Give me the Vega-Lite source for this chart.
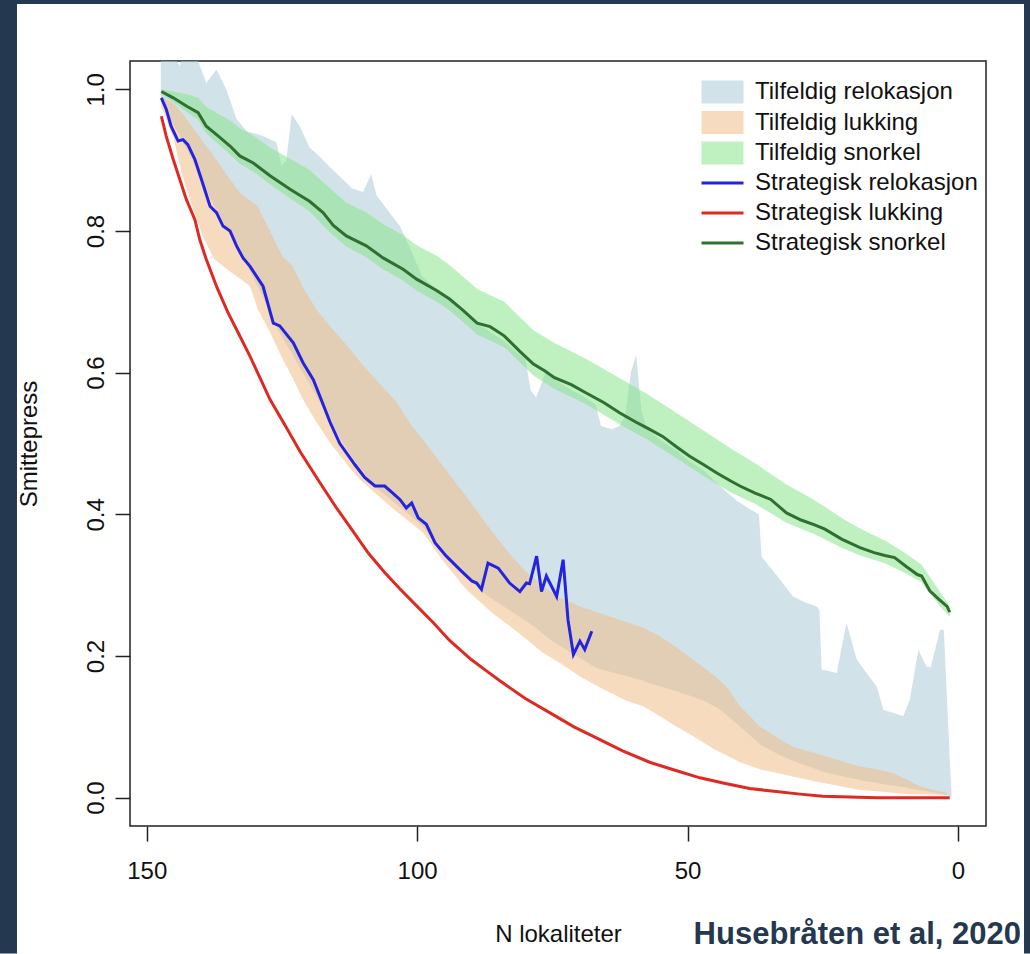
{
  "$schema": "https://vega.github.io/schema/vega-lite/v6.json",
  "width": 856,
  "height": 765,
  "autosize": {"type": "none"},
  "padding": {"left": 130, "top": 61, "right": 44, "bottom": 128},
  "background": "white",
  "title": {"text": "Husebråten et al, 2020", "orient": "bottom", "anchor": "end", "frame": "group", "offset": -10, "dx": 35, "baseline": "alphabetic", "fontSize": 31, "fontWeight": "bold", "color": "#24384f", "font": "Liberation Sans"},
  "config": {
    "font": "Liberation Sans",
    "view": {"stroke": "#222", "strokeWidth": 1.5},
    "axis": {"grid": false, "domain": false, "tickSize": 15, "tickWidth": 1.5, "tickColor": "#222", "labelFontSize": 24, "labelColor": "#111", "labelFont": "Liberation Sans", "titleFontSize": 24, "titleFontWeight": "normal", "titleColor": "#111", "titleFont": "Liberation Sans", "labelFlush": false, "labelOverlap": false}
  },
  "datasets": {
    "bands": [
      {"s": "Tilfeldig relokasjon", "N": 147.4, "lo": 0.985, "hi": 1.06},
      {"s": "Tilfeldig relokasjon", "N": 145.1, "lo": 0.95, "hi": 1.05},
      {"s": "Tilfeldig relokasjon", "N": 143.9, "lo": 0.935, "hi": 1.033},
      {"s": "Tilfeldig relokasjon", "N": 143.0, "lo": 0.92, "hi": 1.06},
      {"s": "Tilfeldig relokasjon", "N": 141.5, "lo": 0.9, "hi": 1.045},
      {"s": "Tilfeldig relokasjon", "N": 140.5, "lo": 0.88, "hi": 1.04},
      {"s": "Tilfeldig relokasjon", "N": 139.0, "lo": 0.857, "hi": 1.009},
      {"s": "Tilfeldig relokasjon", "N": 137.1, "lo": 0.83, "hi": 1.028},
      {"s": "Tilfeldig relokasjon", "N": 135.3, "lo": 0.805, "hi": 1.0},
      {"s": "Tilfeldig relokasjon", "N": 133.4, "lo": 0.78, "hi": 0.958},
      {"s": "Tilfeldig relokasjon", "N": 131.5, "lo": 0.752, "hi": 0.941},
      {"s": "Tilfeldig relokasjon", "N": 128.5, "lo": 0.707, "hi": 0.934},
      {"s": "Tilfeldig relokasjon", "N": 126.0, "lo": 0.665, "hi": 0.925},
      {"s": "Tilfeldig relokasjon", "N": 125.1, "lo": 0.652, "hi": 0.892},
      {"s": "Tilfeldig relokasjon", "N": 124.2, "lo": 0.64, "hi": 0.9},
      {"s": "Tilfeldig relokasjon", "N": 123.2, "lo": 0.628, "hi": 0.965},
      {"s": "Tilfeldig relokasjon", "N": 121.7, "lo": 0.607, "hi": 0.948},
      {"s": "Tilfeldig relokasjon", "N": 119.9, "lo": 0.584, "hi": 0.918},
      {"s": "Tilfeldig relokasjon", "N": 118.0, "lo": 0.558, "hi": 0.905},
      {"s": "Tilfeldig relokasjon", "N": 116.1, "lo": 0.532, "hi": 0.89},
      {"s": "Tilfeldig relokasjon", "N": 114.0, "lo": 0.505, "hi": 0.875},
      {"s": "Tilfeldig relokasjon", "N": 112.0, "lo": 0.48, "hi": 0.86},
      {"s": "Tilfeldig relokasjon", "N": 110.0, "lo": 0.46, "hi": 0.855},
      {"s": "Tilfeldig relokasjon", "N": 108.5, "lo": 0.445, "hi": 0.88},
      {"s": "Tilfeldig relokasjon", "N": 107.5, "lo": 0.437, "hi": 0.85},
      {"s": "Tilfeldig relokasjon", "N": 105.5, "lo": 0.425, "hi": 0.83},
      {"s": "Tilfeldig relokasjon", "N": 103.2, "lo": 0.41, "hi": 0.807},
      {"s": "Tilfeldig relokasjon", "N": 101.0, "lo": 0.397, "hi": 0.77},
      {"s": "Tilfeldig relokasjon", "N": 99.0, "lo": 0.383, "hi": 0.735},
      {"s": "Tilfeldig relokasjon", "N": 96.0, "lo": 0.355, "hi": 0.715},
      {"s": "Tilfeldig relokasjon", "N": 93.0, "lo": 0.33, "hi": 0.695},
      {"s": "Tilfeldig relokasjon", "N": 90.0, "lo": 0.305, "hi": 0.675},
      {"s": "Tilfeldig relokasjon", "N": 87.0, "lo": 0.285, "hi": 0.66},
      {"s": "Tilfeldig relokasjon", "N": 84.0, "lo": 0.27, "hi": 0.645},
      {"s": "Tilfeldig relokasjon", "N": 81.0, "lo": 0.255, "hi": 0.625},
      {"s": "Tilfeldig relokasjon", "N": 80.0, "lo": 0.25, "hi": 0.62},
      {"s": "Tilfeldig relokasjon", "N": 79.0, "lo": 0.245, "hi": 0.575},
      {"s": "Tilfeldig relokasjon", "N": 78.0, "lo": 0.24, "hi": 0.565},
      {"s": "Tilfeldig relokasjon", "N": 77.0, "lo": 0.233, "hi": 0.585},
      {"s": "Tilfeldig relokasjon", "N": 76.0, "lo": 0.227, "hi": 0.605},
      {"s": "Tilfeldig relokasjon", "N": 74.6, "lo": 0.219, "hi": 0.59},
      {"s": "Tilfeldig relokasjon", "N": 72.0, "lo": 0.207, "hi": 0.578},
      {"s": "Tilfeldig relokasjon", "N": 69.0, "lo": 0.193, "hi": 0.565},
      {"s": "Tilfeldig relokasjon", "N": 67.0, "lo": 0.184, "hi": 0.555},
      {"s": "Tilfeldig relokasjon", "N": 66.0, "lo": 0.181, "hi": 0.525},
      {"s": "Tilfeldig relokasjon", "N": 64.0, "lo": 0.177, "hi": 0.52},
      {"s": "Tilfeldig relokasjon", "N": 62.5, "lo": 0.174, "hi": 0.525},
      {"s": "Tilfeldig relokasjon", "N": 61.5, "lo": 0.172, "hi": 0.54},
      {"s": "Tilfeldig relokasjon", "N": 60.5, "lo": 0.17, "hi": 0.6},
      {"s": "Tilfeldig relokasjon", "N": 59.5, "lo": 0.168, "hi": 0.625},
      {"s": "Tilfeldig relokasjon", "N": 58.5, "lo": 0.166, "hi": 0.545},
      {"s": "Tilfeldig relokasjon", "N": 57.5, "lo": 0.163, "hi": 0.52},
      {"s": "Tilfeldig relokasjon", "N": 55.0, "lo": 0.157, "hi": 0.505},
      {"s": "Tilfeldig relokasjon", "N": 52.0, "lo": 0.15, "hi": 0.49},
      {"s": "Tilfeldig relokasjon", "N": 49.6, "lo": 0.144, "hi": 0.475},
      {"s": "Tilfeldig relokasjon", "N": 47.0, "lo": 0.137, "hi": 0.462},
      {"s": "Tilfeldig relokasjon", "N": 44.0, "lo": 0.125, "hi": 0.44},
      {"s": "Tilfeldig relokasjon", "N": 41.0, "lo": 0.105, "hi": 0.42},
      {"s": "Tilfeldig relokasjon", "N": 38.0, "lo": 0.085, "hi": 0.405},
      {"s": "Tilfeldig relokasjon", "N": 36.8, "lo": 0.077, "hi": 0.4},
      {"s": "Tilfeldig relokasjon", "N": 36.3, "lo": 0.074, "hi": 0.34},
      {"s": "Tilfeldig relokasjon", "N": 32.9, "lo": 0.06, "hi": 0.308},
      {"s": "Tilfeldig relokasjon", "N": 30.5, "lo": 0.052, "hi": 0.284},
      {"s": "Tilfeldig relokasjon", "N": 28.0, "lo": 0.045, "hi": 0.275},
      {"s": "Tilfeldig relokasjon", "N": 26.1, "lo": 0.04, "hi": 0.27},
      {"s": "Tilfeldig relokasjon", "N": 25.6, "lo": 0.038, "hi": 0.265},
      {"s": "Tilfeldig relokasjon", "N": 25.2, "lo": 0.037, "hi": 0.181},
      {"s": "Tilfeldig relokasjon", "N": 22.4, "lo": 0.032, "hi": 0.176},
      {"s": "Tilfeldig relokasjon", "N": 20.6, "lo": 0.029, "hi": 0.247},
      {"s": "Tilfeldig relokasjon", "N": 18.7, "lo": 0.026, "hi": 0.195},
      {"s": "Tilfeldig relokasjon", "N": 16.9, "lo": 0.023, "hi": 0.176},
      {"s": "Tilfeldig relokasjon", "N": 15.0, "lo": 0.021, "hi": 0.157},
      {"s": "Tilfeldig relokasjon", "N": 13.8, "lo": 0.019, "hi": 0.124},
      {"s": "Tilfeldig relokasjon", "N": 10.1, "lo": 0.015, "hi": 0.115},
      {"s": "Tilfeldig relokasjon", "N": 8.9, "lo": 0.013, "hi": 0.138},
      {"s": "Tilfeldig relokasjon", "N": 7.3, "lo": 0.011, "hi": 0.209},
      {"s": "Tilfeldig relokasjon", "N": 5.8, "lo": 0.009, "hi": 0.185},
      {"s": "Tilfeldig relokasjon", "N": 5.0, "lo": 0.008, "hi": 0.185},
      {"s": "Tilfeldig relokasjon", "N": 3.3, "lo": 0.006, "hi": 0.237},
      {"s": "Tilfeldig relokasjon", "N": 2.6, "lo": 0.005, "hi": 0.237},
      {"s": "Tilfeldig relokasjon", "N": 1.5, "lo": 0.002, "hi": 0.054},
      {"s": "Tilfeldig relokasjon", "N": 1.2, "lo": 0.0, "hi": 0.01},
      {"s": "Tilfeldig lukking", "N": 147.3, "lo": 0.975, "hi": 0.99},
      {"s": "Tilfeldig lukking", "N": 145.0, "lo": 0.93, "hi": 0.98},
      {"s": "Tilfeldig lukking", "N": 143.5, "lo": 0.88, "hi": 0.967},
      {"s": "Tilfeldig lukking", "N": 141.4, "lo": 0.83, "hi": 0.945},
      {"s": "Tilfeldig lukking", "N": 139.5, "lo": 0.79, "hi": 0.925},
      {"s": "Tilfeldig lukking", "N": 137.5, "lo": 0.76, "hi": 0.905},
      {"s": "Tilfeldig lukking", "N": 135.0, "lo": 0.745, "hi": 0.877},
      {"s": "Tilfeldig lukking", "N": 132.8, "lo": 0.733, "hi": 0.854},
      {"s": "Tilfeldig lukking", "N": 130.9, "lo": 0.722, "hi": 0.843},
      {"s": "Tilfeldig lukking", "N": 129.5, "lo": 0.69, "hi": 0.835},
      {"s": "Tilfeldig lukking", "N": 127.2, "lo": 0.657, "hi": 0.8},
      {"s": "Tilfeldig lukking", "N": 125.0, "lo": 0.621, "hi": 0.765},
      {"s": "Tilfeldig lukking", "N": 123.0, "lo": 0.592, "hi": 0.75},
      {"s": "Tilfeldig lukking", "N": 121.1, "lo": 0.562, "hi": 0.72},
      {"s": "Tilfeldig lukking", "N": 118.6, "lo": 0.53, "hi": 0.689},
      {"s": "Tilfeldig lukking", "N": 116.0, "lo": 0.5, "hi": 0.665},
      {"s": "Tilfeldig lukking", "N": 112.4, "lo": 0.465, "hi": 0.633},
      {"s": "Tilfeldig lukking", "N": 110.0, "lo": 0.445, "hi": 0.61},
      {"s": "Tilfeldig lukking", "N": 107.0, "lo": 0.425, "hi": 0.585},
      {"s": "Tilfeldig lukking", "N": 104.0, "lo": 0.405, "hi": 0.56},
      {"s": "Tilfeldig lukking", "N": 101.0, "lo": 0.387, "hi": 0.525},
      {"s": "Tilfeldig lukking", "N": 98.9, "lo": 0.374, "hi": 0.505},
      {"s": "Tilfeldig lukking", "N": 95.2, "lo": 0.334, "hi": 0.468},
      {"s": "Tilfeldig lukking", "N": 90.9, "lo": 0.294, "hi": 0.425},
      {"s": "Tilfeldig lukking", "N": 86.0, "lo": 0.26, "hi": 0.374},
      {"s": "Tilfeldig lukking", "N": 83.0, "lo": 0.243, "hi": 0.345},
      {"s": "Tilfeldig lukking", "N": 80.0, "lo": 0.225, "hi": 0.32},
      {"s": "Tilfeldig lukking", "N": 77.0, "lo": 0.206, "hi": 0.3},
      {"s": "Tilfeldig lukking", "N": 73.6, "lo": 0.19, "hi": 0.282},
      {"s": "Tilfeldig lukking", "N": 69.9, "lo": 0.171, "hi": 0.27},
      {"s": "Tilfeldig lukking", "N": 66.0, "lo": 0.155, "hi": 0.26},
      {"s": "Tilfeldig lukking", "N": 61.3, "lo": 0.137, "hi": 0.248},
      {"s": "Tilfeldig lukking", "N": 58.2, "lo": 0.129, "hi": 0.24},
      {"s": "Tilfeldig lukking", "N": 55.1, "lo": 0.115, "hi": 0.228},
      {"s": "Tilfeldig lukking", "N": 52.0, "lo": 0.1, "hi": 0.212},
      {"s": "Tilfeldig lukking", "N": 49.0, "lo": 0.087, "hi": 0.195},
      {"s": "Tilfeldig lukking", "N": 45.0, "lo": 0.068, "hi": 0.172},
      {"s": "Tilfeldig lukking", "N": 42.8, "lo": 0.06, "hi": 0.157},
      {"s": "Tilfeldig lukking", "N": 40.3, "lo": 0.05, "hi": 0.129},
      {"s": "Tilfeldig lukking", "N": 36.6, "lo": 0.04, "hi": 0.1},
      {"s": "Tilfeldig lukking", "N": 33.0, "lo": 0.034, "hi": 0.083},
      {"s": "Tilfeldig lukking", "N": 30.5, "lo": 0.03, "hi": 0.072},
      {"s": "Tilfeldig lukking", "N": 27.0, "lo": 0.024, "hi": 0.064},
      {"s": "Tilfeldig lukking", "N": 24.3, "lo": 0.02, "hi": 0.058},
      {"s": "Tilfeldig lukking", "N": 21.0, "lo": 0.015, "hi": 0.05},
      {"s": "Tilfeldig lukking", "N": 18.1, "lo": 0.011, "hi": 0.044},
      {"s": "Tilfeldig lukking", "N": 15.0, "lo": 0.009, "hi": 0.04},
      {"s": "Tilfeldig lukking", "N": 12.0, "lo": 0.007, "hi": 0.035},
      {"s": "Tilfeldig lukking", "N": 9.0, "lo": 0.005, "hi": 0.024},
      {"s": "Tilfeldig lukking", "N": 7.0, "lo": 0.005, "hi": 0.016},
      {"s": "Tilfeldig lukking", "N": 4.5, "lo": 0.004, "hi": 0.011},
      {"s": "Tilfeldig lukking", "N": 2.1, "lo": 0.003, "hi": 0.007},
      {"s": "Tilfeldig snorkel", "N": 147.3, "lo": 0.993, "hi": 1.0},
      {"s": "Tilfeldig snorkel", "N": 145.1, "lo": 0.982, "hi": 0.997},
      {"s": "Tilfeldig snorkel", "N": 142.6, "lo": 0.968, "hi": 0.993},
      {"s": "Tilfeldig snorkel", "N": 140.5, "lo": 0.957, "hi": 0.988},
      {"s": "Tilfeldig snorkel", "N": 139.0, "lo": 0.938, "hi": 0.975},
      {"s": "Tilfeldig snorkel", "N": 137.1, "lo": 0.925, "hi": 0.967},
      {"s": "Tilfeldig snorkel", "N": 134.6, "lo": 0.908, "hi": 0.956},
      {"s": "Tilfeldig snorkel", "N": 132.8, "lo": 0.895, "hi": 0.945},
      {"s": "Tilfeldig snorkel", "N": 130.3, "lo": 0.884, "hi": 0.935},
      {"s": "Tilfeldig snorkel", "N": 127.2, "lo": 0.866, "hi": 0.918},
      {"s": "Tilfeldig snorkel", "N": 123.5, "lo": 0.846, "hi": 0.902},
      {"s": "Tilfeldig snorkel", "N": 119.9, "lo": 0.828, "hi": 0.886},
      {"s": "Tilfeldig snorkel", "N": 116.1, "lo": 0.798, "hi": 0.86},
      {"s": "Tilfeldig snorkel", "N": 113.1, "lo": 0.778, "hi": 0.84},
      {"s": "Tilfeldig snorkel", "N": 109.4, "lo": 0.763, "hi": 0.826},
      {"s": "Tilfeldig snorkel", "N": 106.3, "lo": 0.746, "hi": 0.81},
      {"s": "Tilfeldig snorkel", "N": 102.6, "lo": 0.73, "hi": 0.794},
      {"s": "Tilfeldig snorkel", "N": 100.1, "lo": 0.716, "hi": 0.78},
      {"s": "Tilfeldig snorkel", "N": 96.4, "lo": 0.7, "hi": 0.765},
      {"s": "Tilfeldig snorkel", "N": 94.0, "lo": 0.688, "hi": 0.752},
      {"s": "Tilfeldig snorkel", "N": 88.9, "lo": 0.654, "hi": 0.718},
      {"s": "Tilfeldig snorkel", "N": 83.9, "lo": 0.636, "hi": 0.7},
      {"s": "Tilfeldig snorkel", "N": 78.5, "lo": 0.596, "hi": 0.66},
      {"s": "Tilfeldig snorkel", "N": 74.6, "lo": 0.577, "hi": 0.642},
      {"s": "Tilfeldig snorkel", "N": 68.9, "lo": 0.556, "hi": 0.62},
      {"s": "Tilfeldig snorkel", "N": 62.5, "lo": 0.527, "hi": 0.592},
      {"s": "Tilfeldig snorkel", "N": 57.5, "lo": 0.506, "hi": 0.57},
      {"s": "Tilfeldig snorkel", "N": 52.0, "lo": 0.479, "hi": 0.543},
      {"s": "Tilfeldig snorkel", "N": 47.0, "lo": 0.454, "hi": 0.518},
      {"s": "Tilfeldig snorkel", "N": 42.0, "lo": 0.431, "hi": 0.493},
      {"s": "Tilfeldig snorkel", "N": 37.5, "lo": 0.415, "hi": 0.472},
      {"s": "Tilfeldig snorkel", "N": 31.7, "lo": 0.388, "hi": 0.442},
      {"s": "Tilfeldig snorkel", "N": 26.5, "lo": 0.372, "hi": 0.42},
      {"s": "Tilfeldig snorkel", "N": 21.5, "lo": 0.353, "hi": 0.395},
      {"s": "Tilfeldig snorkel", "N": 18.1, "lo": 0.342, "hi": 0.38},
      {"s": "Tilfeldig snorkel", "N": 13.5, "lo": 0.331, "hi": 0.363},
      {"s": "Tilfeldig snorkel", "N": 9.5, "lo": 0.316, "hi": 0.344},
      {"s": "Tilfeldig snorkel", "N": 6.7, "lo": 0.304, "hi": 0.329},
      {"s": "Tilfeldig snorkel", "N": 3.5, "lo": 0.272, "hi": 0.293},
      {"s": "Tilfeldig snorkel", "N": 1.5, "lo": 0.255, "hi": 0.27}
    ],
    "lines": [
      {"s": "Strategisk relokasjon", "N": 147.3, "v": 0.988},
      {"s": "Strategisk relokasjon", "N": 146.4, "v": 0.972},
      {"s": "Strategisk relokasjon", "N": 145.5, "v": 0.948},
      {"s": "Strategisk relokasjon", "N": 144.2, "v": 0.927},
      {"s": "Strategisk relokasjon", "N": 143.3, "v": 0.929},
      {"s": "Strategisk relokasjon", "N": 142.4, "v": 0.922},
      {"s": "Strategisk relokasjon", "N": 141.1, "v": 0.901},
      {"s": "Strategisk relokasjon", "N": 139.9, "v": 0.873},
      {"s": "Strategisk relokasjon", "N": 138.3, "v": 0.835},
      {"s": "Strategisk relokasjon", "N": 137.1, "v": 0.826},
      {"s": "Strategisk relokasjon", "N": 135.9, "v": 0.807},
      {"s": "Strategisk relokasjon", "N": 134.6, "v": 0.8},
      {"s": "Strategisk relokasjon", "N": 133.4, "v": 0.779},
      {"s": "Strategisk relokasjon", "N": 132.2, "v": 0.762},
      {"s": "Strategisk relokasjon", "N": 130.9, "v": 0.75},
      {"s": "Strategisk relokasjon", "N": 128.5, "v": 0.722},
      {"s": "Strategisk relokasjon", "N": 126.6, "v": 0.67},
      {"s": "Strategisk relokasjon", "N": 125.4, "v": 0.666},
      {"s": "Strategisk relokasjon", "N": 122.9, "v": 0.642},
      {"s": "Strategisk relokasjon", "N": 121.1, "v": 0.614},
      {"s": "Strategisk relokasjon", "N": 119.2, "v": 0.59},
      {"s": "Strategisk relokasjon", "N": 118.0, "v": 0.567},
      {"s": "Strategisk relokasjon", "N": 116.1, "v": 0.53},
      {"s": "Strategisk relokasjon", "N": 114.3, "v": 0.5},
      {"s": "Strategisk relokasjon", "N": 111.5, "v": 0.47},
      {"s": "Strategisk relokasjon", "N": 109.7, "v": 0.452},
      {"s": "Strategisk relokasjon", "N": 107.8, "v": 0.44},
      {"s": "Strategisk relokasjon", "N": 106.0, "v": 0.44},
      {"s": "Strategisk relokasjon", "N": 104.5, "v": 0.43},
      {"s": "Strategisk relokasjon", "N": 103.2, "v": 0.421},
      {"s": "Strategisk relokasjon", "N": 102.0, "v": 0.409},
      {"s": "Strategisk relokasjon", "N": 101.0, "v": 0.416},
      {"s": "Strategisk relokasjon", "N": 99.8, "v": 0.395},
      {"s": "Strategisk relokasjon", "N": 98.3, "v": 0.386},
      {"s": "Strategisk relokasjon", "N": 96.7, "v": 0.36},
      {"s": "Strategisk relokasjon", "N": 94.6, "v": 0.341},
      {"s": "Strategisk relokasjon", "N": 92.1, "v": 0.322},
      {"s": "Strategisk relokasjon", "N": 89.9, "v": 0.306},
      {"s": "Strategisk relokasjon", "N": 89.0, "v": 0.303},
      {"s": "Strategisk relokasjon", "N": 88.1, "v": 0.294},
      {"s": "Strategisk relokasjon", "N": 86.9, "v": 0.331},
      {"s": "Strategisk relokasjon", "N": 85.0, "v": 0.324},
      {"s": "Strategisk relokasjon", "N": 82.9, "v": 0.303},
      {"s": "Strategisk relokasjon", "N": 81.0, "v": 0.291},
      {"s": "Strategisk relokasjon", "N": 79.8, "v": 0.303},
      {"s": "Strategisk relokasjon", "N": 79.2, "v": 0.302},
      {"s": "Strategisk relokasjon", "N": 77.9, "v": 0.341},
      {"s": "Strategisk relokasjon", "N": 77.0, "v": 0.291},
      {"s": "Strategisk relokasjon", "N": 76.1, "v": 0.313},
      {"s": "Strategisk relokasjon", "N": 74.2, "v": 0.284},
      {"s": "Strategisk relokasjon", "N": 73.0, "v": 0.336},
      {"s": "Strategisk relokasjon", "N": 72.1, "v": 0.251},
      {"s": "Strategisk relokasjon", "N": 71.1, "v": 0.202},
      {"s": "Strategisk relokasjon", "N": 69.9, "v": 0.221},
      {"s": "Strategisk relokasjon", "N": 69.0, "v": 0.209},
      {"s": "Strategisk relokasjon", "N": 67.7, "v": 0.235},
      {"s": "Strategisk lukking", "N": 147.3, "v": 0.962},
      {"s": "Strategisk lukking", "N": 146.4, "v": 0.934},
      {"s": "Strategisk lukking", "N": 145.1, "v": 0.901},
      {"s": "Strategisk lukking", "N": 143.9, "v": 0.873},
      {"s": "Strategisk lukking", "N": 142.7, "v": 0.845},
      {"s": "Strategisk lukking", "N": 141.1, "v": 0.816},
      {"s": "Strategisk lukking", "N": 140.2, "v": 0.788},
      {"s": "Strategisk lukking", "N": 139.0, "v": 0.76},
      {"s": "Strategisk lukking", "N": 137.0, "v": 0.72},
      {"s": "Strategisk lukking", "N": 135.0, "v": 0.685},
      {"s": "Strategisk lukking", "N": 133.0, "v": 0.655},
      {"s": "Strategisk lukking", "N": 130.9, "v": 0.623},
      {"s": "Strategisk lukking", "N": 127.2, "v": 0.562},
      {"s": "Strategisk lukking", "N": 124.0, "v": 0.52},
      {"s": "Strategisk lukking", "N": 121.6, "v": 0.488},
      {"s": "Strategisk lukking", "N": 118.0, "v": 0.445},
      {"s": "Strategisk lukking", "N": 115.0, "v": 0.41},
      {"s": "Strategisk lukking", "N": 112.4, "v": 0.382},
      {"s": "Strategisk lukking", "N": 109.0, "v": 0.345},
      {"s": "Strategisk lukking", "N": 106.0, "v": 0.318},
      {"s": "Strategisk lukking", "N": 103.2, "v": 0.295},
      {"s": "Strategisk lukking", "N": 100.0, "v": 0.27},
      {"s": "Strategisk lukking", "N": 97.0, "v": 0.247},
      {"s": "Strategisk lukking", "N": 94.0, "v": 0.222},
      {"s": "Strategisk lukking", "N": 90.0, "v": 0.195},
      {"s": "Strategisk lukking", "N": 87.0, "v": 0.178},
      {"s": "Strategisk lukking", "N": 84.7, "v": 0.165},
      {"s": "Strategisk lukking", "N": 80.0, "v": 0.14},
      {"s": "Strategisk lukking", "N": 75.5, "v": 0.12},
      {"s": "Strategisk lukking", "N": 71.0, "v": 0.1},
      {"s": "Strategisk lukking", "N": 66.2, "v": 0.082},
      {"s": "Strategisk lukking", "N": 62.0, "v": 0.066},
      {"s": "Strategisk lukking", "N": 57.0, "v": 0.05},
      {"s": "Strategisk lukking", "N": 52.0, "v": 0.038},
      {"s": "Strategisk lukking", "N": 47.7, "v": 0.028},
      {"s": "Strategisk lukking", "N": 43.0, "v": 0.02},
      {"s": "Strategisk lukking", "N": 38.5, "v": 0.013},
      {"s": "Strategisk lukking", "N": 34.0, "v": 0.009},
      {"s": "Strategisk lukking", "N": 29.2, "v": 0.005},
      {"s": "Strategisk lukking", "N": 25.0, "v": 0.002},
      {"s": "Strategisk lukking", "N": 20.0, "v": 0.001},
      {"s": "Strategisk lukking", "N": 15.0, "v": 0.0},
      {"s": "Strategisk lukking", "N": 10.0, "v": 0.0},
      {"s": "Strategisk lukking", "N": 5.0, "v": 0.0},
      {"s": "Strategisk lukking", "N": 1.5, "v": 0.0},
      {"s": "Strategisk snorkel", "N": 147.3, "v": 0.997},
      {"s": "Strategisk snorkel", "N": 145.1, "v": 0.988},
      {"s": "Strategisk snorkel", "N": 142.6, "v": 0.976},
      {"s": "Strategisk snorkel", "N": 140.5, "v": 0.967},
      {"s": "Strategisk snorkel", "N": 139.0, "v": 0.948},
      {"s": "Strategisk snorkel", "N": 137.1, "v": 0.936},
      {"s": "Strategisk snorkel", "N": 134.6, "v": 0.92},
      {"s": "Strategisk snorkel", "N": 132.8, "v": 0.906},
      {"s": "Strategisk snorkel", "N": 130.3, "v": 0.896},
      {"s": "Strategisk snorkel", "N": 127.2, "v": 0.878},
      {"s": "Strategisk snorkel", "N": 123.5, "v": 0.859},
      {"s": "Strategisk snorkel", "N": 119.9, "v": 0.842},
      {"s": "Strategisk snorkel", "N": 117.4, "v": 0.826},
      {"s": "Strategisk snorkel", "N": 115.5, "v": 0.808},
      {"s": "Strategisk snorkel", "N": 113.1, "v": 0.793},
      {"s": "Strategisk snorkel", "N": 109.4, "v": 0.779},
      {"s": "Strategisk snorkel", "N": 106.3, "v": 0.762},
      {"s": "Strategisk snorkel", "N": 102.6, "v": 0.746},
      {"s": "Strategisk snorkel", "N": 100.1, "v": 0.732},
      {"s": "Strategisk snorkel", "N": 96.4, "v": 0.716},
      {"s": "Strategisk snorkel", "N": 94.0, "v": 0.704},
      {"s": "Strategisk snorkel", "N": 91.5, "v": 0.688},
      {"s": "Strategisk snorkel", "N": 88.9, "v": 0.67},
      {"s": "Strategisk snorkel", "N": 86.5, "v": 0.665},
      {"s": "Strategisk snorkel", "N": 83.9, "v": 0.652},
      {"s": "Strategisk snorkel", "N": 81.0, "v": 0.63},
      {"s": "Strategisk snorkel", "N": 78.5, "v": 0.612},
      {"s": "Strategisk snorkel", "N": 76.5, "v": 0.603},
      {"s": "Strategisk snorkel", "N": 74.6, "v": 0.593},
      {"s": "Strategisk snorkel", "N": 71.5, "v": 0.583},
      {"s": "Strategisk snorkel", "N": 68.9, "v": 0.572},
      {"s": "Strategisk snorkel", "N": 65.5, "v": 0.558},
      {"s": "Strategisk snorkel", "N": 62.5, "v": 0.543},
      {"s": "Strategisk snorkel", "N": 59.5, "v": 0.53},
      {"s": "Strategisk snorkel", "N": 57.5, "v": 0.522},
      {"s": "Strategisk snorkel", "N": 54.6, "v": 0.51},
      {"s": "Strategisk snorkel", "N": 52.0, "v": 0.495},
      {"s": "Strategisk snorkel", "N": 49.6, "v": 0.482},
      {"s": "Strategisk snorkel", "N": 47.0, "v": 0.47},
      {"s": "Strategisk snorkel", "N": 44.5, "v": 0.458},
      {"s": "Strategisk snorkel", "N": 42.0, "v": 0.447},
      {"s": "Strategisk snorkel", "N": 40.3, "v": 0.44},
      {"s": "Strategisk snorkel", "N": 37.5, "v": 0.43},
      {"s": "Strategisk snorkel", "N": 34.6, "v": 0.421},
      {"s": "Strategisk snorkel", "N": 31.7, "v": 0.402},
      {"s": "Strategisk snorkel", "N": 29.0, "v": 0.392},
      {"s": "Strategisk snorkel", "N": 26.5, "v": 0.385},
      {"s": "Strategisk snorkel", "N": 24.6, "v": 0.379},
      {"s": "Strategisk snorkel", "N": 21.5, "v": 0.365},
      {"s": "Strategisk snorkel", "N": 18.1, "v": 0.353},
      {"s": "Strategisk snorkel", "N": 15.5, "v": 0.346},
      {"s": "Strategisk snorkel", "N": 13.5, "v": 0.342},
      {"s": "Strategisk snorkel", "N": 11.7, "v": 0.339},
      {"s": "Strategisk snorkel", "N": 9.5, "v": 0.326},
      {"s": "Strategisk snorkel", "N": 7.5, "v": 0.315},
      {"s": "Strategisk snorkel", "N": 6.7, "v": 0.313},
      {"s": "Strategisk snorkel", "N": 5.2, "v": 0.292},
      {"s": "Strategisk snorkel", "N": 3.5, "v": 0.28},
      {"s": "Strategisk snorkel", "N": 2.0, "v": 0.27},
      {"s": "Strategisk snorkel", "N": 1.5, "v": 0.262}
    ]
  },
  "layer": [
    {
      "data": {"values": [{}]},
      "mark": {"type": "rect", "color": "#24384f"},
      "encoding": {
        "x": {"datum": 190, "type": "quantitative", "scale": {"domain": [-5.2, 153.1], "reverse": true, "nice": false, "zero": false}, "axis": {"values": [150, 100, 50, 0], "title": "N lokaliteter", "labelPadding": 37, "labelBaseline": "alphabetic", "titleY": 115, "titleBaseline": "alphabetic"}},
        "x2": {"datum": 174.0},
        "y": {"datum": -0.22, "type": "quantitative", "scale": {"domain": [-0.04, 1.04], "nice": false, "zero": false}, "axis": {"values": [0, 0.2, 0.4, 0.6, 0.8, 1.0], "format": ".1f", "title": "Smittepress", "labelAngle": -90, "labelAlign": "center", "labelBaseline": "alphabetic", "labelPadding": 12, "titleX": -94, "titleBaseline": "alphabetic", "titleAngle": -90}},
        "y2": {"datum": 1.2}
      }
    },
    {
      "data": {"values": [{}]},
      "mark": {"type": "rect", "color": "#24384f"},
      "encoding": {
        "x": {"datum": 190, "type": "quantitative"},
        "x2": {"datum": -20},
        "y": {"datum": 1.1205, "type": "quantitative"},
        "y2": {"datum": 1.2}
      }
    },
    {
      "data": {"values": [{}]},
      "mark": {"type": "rect", "color": "#24384f"},
      "encoding": {
        "x": {"datum": -12.23, "type": "quantitative"},
        "x2": {"datum": -20},
        "y": {"datum": -0.22, "type": "quantitative"},
        "y2": {"datum": 1.2}
      }
    },
    {
      "data": {"name": "bands"},
      "transform": [{"filter": "datum.s === 'Tilfeldig relokasjon'"}],
      "mark": {"type": "area", "clip": true, "fillOpacity": 0.55},
      "encoding": {
        "x": {"field": "N", "type": "quantitative"},
        "y": {"field": "lo", "type": "quantitative"},
        "y2": {"field": "hi"},
        "fill": {"field": "s", "type": "nominal", "scale": {"domain": ["Tilfeldig relokasjon", "Tilfeldig lukking", "Tilfeldig snorkel"], "range": ["#abcad7", "#f0be89", "#89e48c"]},
          "legend": {"orient": "none", "legendX": 570, "legendY": 19, "title": null, "symbolType": "M-1,-1.1H3V1.1H-1Z", "symbolSize": 441, "symbolOpacity": 0.55, "symbolStrokeWidth": 0, "labelFontSize": 24, "labelFont": "Liberation Sans", "labelColor": "#111", "labelOffset": 31, "rowPadding": 6.5, "padding": 0, "labelLimit": 400}}
      }
    },
    {
      "data": {"name": "bands"},
      "transform": [{"filter": "datum.s === 'Tilfeldig lukking'"}],
      "mark": {"type": "area", "clip": true, "fillOpacity": 0.55},
      "encoding": {
        "x": {"field": "N", "type": "quantitative"},
        "y": {"field": "lo", "type": "quantitative"},
        "y2": {"field": "hi"},
        "fill": {"field": "s", "type": "nominal"}
      }
    },
    {
      "data": {"name": "bands"},
      "transform": [{"filter": "datum.s === 'Tilfeldig snorkel'"}],
      "mark": {"type": "area", "clip": true, "fillOpacity": 0.55},
      "encoding": {
        "x": {"field": "N", "type": "quantitative"},
        "y": {"field": "lo", "type": "quantitative"},
        "y2": {"field": "hi"},
        "fill": {"field": "s", "type": "nominal"}
      }
    },
    {
      "data": {"name": "lines"},
      "mark": {"type": "line", "clip": true, "strokeWidth": 3},
      "encoding": {
        "x": {"field": "N", "type": "quantitative"},
        "y": {"field": "v", "type": "quantitative"},
        "stroke": {"field": "s", "type": "nominal", "scale": {"domain": ["Strategisk relokasjon", "Strategisk lukking", "Strategisk snorkel"], "range": ["#2323e0", "#dd2a22", "#2f6f2f"]},
          "legend": {"orient": "none", "legendX": 570, "legendY": 110, "title": null, "symbolType": "M-1,0H3", "symbolSize": 441, "symbolStrokeWidth": 3, "labelFontSize": 24, "labelFont": "Liberation Sans", "labelColor": "#111", "labelOffset": 31, "rowPadding": 6, "padding": 0, "labelLimit": 400}}
      }
    }
  ]
}
